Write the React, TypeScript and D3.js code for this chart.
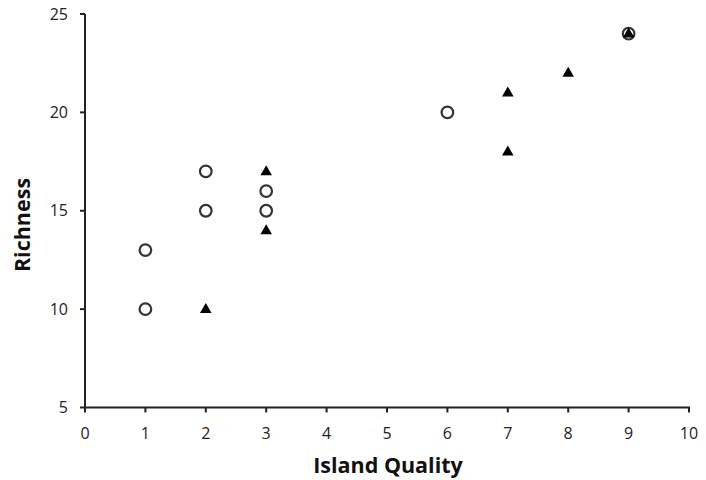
import React from "react";
import * as d3 from "d3";

const circleX = [1, 1, 2, 2, 3, 3, 6, 9];
const circleY = [13, 10, 17, 15, 16, 15, 20, 24];
const triangleX = [2, 3, 3, 7, 7, 8, 9];
const triangleY = [10, 17, 14, 21, 18, 22, 24];
const xTicks = [0, 1, 2, 3, 4, 5, 6, 7, 8, 9, 10];
const yTicks = [5, 10, 15, 20, 25];
const xLabel = "Island Quality";
const yLabel = "Richness";

export default function App() {
  const W = 706, H = 480;
  const x = d3.scaleLinear().domain([0, 10]).range([85, 689]);
  const y = d3.scaleLinear().domain([5, 25]).range([407.5, 14]);
  const tri = d3.symbol().type(d3.symbolTriangle).size(58)();
  const font = "'Open Sans', Calibri, sans-serif";
  const axisColor = "#222";
  return (
    <svg width={W} height={H} style={{ position: "absolute", left: 0, top: 0, background: "#fff" }}>
      <g stroke={axisColor} strokeWidth={2}>
        <line x1={x(0)} x2={x(0)} y1={y(25)} y2={y(5)} />
        <line x1={x(0) - 1} x2={x(10) + 1} y1={y(5)} y2={y(5)} />
        {yTicks.map((t) => (
          <line key={"yt" + t} x1={x(0) - 5} x2={x(0)} y1={y(t)} y2={y(t)} />
        ))}
        {xTicks.map((t) => (
          <line key={"xt" + t} x1={x(t)} x2={x(t)} y1={y(5)} y2={y(5) + 5} />
        ))}
      </g>
      <g fontFamily={font} fontSize={16} fill="#222">
        {yTicks.map((t) => (
          <text key={"yl" + t} x={x(0) - 17} y={y(t)} dy="0.35em" textAnchor="end">{t}</text>
        ))}
        {xTicks.map((t) => (
          <text key={"xl" + t} x={x(t)} y={y(5) + 31} textAnchor="middle">{t}</text>
        ))}
      </g>
      <text x={388} y={473} textAnchor="middle" fontFamily={font} fontWeight="bold" fontSize={21.5} fill="#111">{xLabel}</text>
      <text transform={`translate(30,225) rotate(-90)`} textAnchor="middle" fontFamily={font} fontWeight="bold" fontSize={21.5} fill="#111">{yLabel}</text>
      <g>
        {circleX.map((cx, i) => (
          <circle key={"c" + i} cx={x(cx)} cy={y(circleY[i])} r={5.8} fill="#fff" stroke="#333" strokeWidth={2.2} />
        ))}
        {triangleX.map((tx, i) => (
          <path key={"t" + i} d={tri!} transform={`translate(${x(tx)},${y(triangleY[i]) + 0.5})`} fill="#000" />
        ))}
      </g>
    </svg>
  );
}
